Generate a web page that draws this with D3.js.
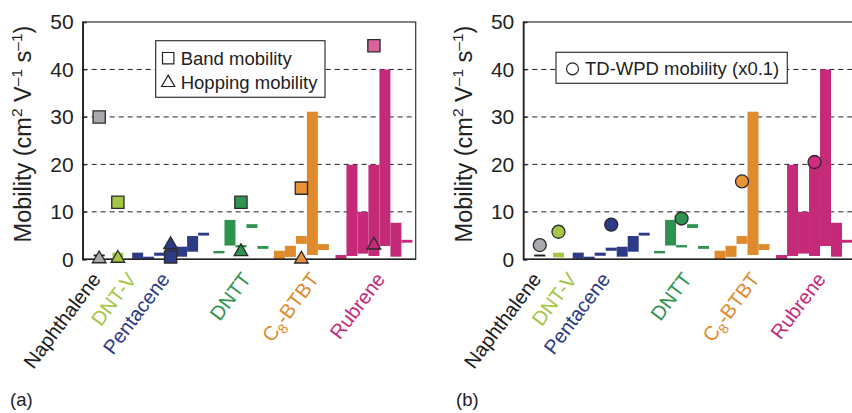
<!DOCTYPE html>
<meta charset="utf-8">
<style>
body { margin: 0; background: #fff; }
svg { font-family: "Liberation Sans", Arial, Helvetica, sans-serif; }
.grid line { stroke: #222; stroke-width: 1; stroke-dasharray: 5,4; }
</style>
<svg width="852" height="413"></svg>
<script src="https://d3js.org/d3.v7.min.js"></script>
<script>

    // compounds, left to right
    var compounds = ["Naphthalene", "DNT-V", "Pentacene", "DNTT", "C8-BTBT", "Rubrene"];
    var barColors = ["#1c1c1c", "#a4c545", "#2d3a86", "#2f9350", "#e08a2e", "#c52a79"];
    var markerColors = ["#a7a9ac", "#a4c545", "#2d3a86", "#2f9350", "#e8923a", "#d9649c"];
    var circleColors = ["#a7a9ac", "#a4c545", "#2d3a86", "#2f9350", "#e8923a", "#d42a86"];

    // first slot of each compound on the x axis (slot units)
    var groupStart = [1.0, 2.7, 4.5, 11.9, 17.4, 23.0];
    var labelAt = [1.73, 4.96, 8.0, 15.4, 21.6, 27.6];

    // reported mobility ranges [low, high], one bar per slot
    var naphRanges = [[0.6, 1.0]];
    var dntvRanges = [[0.4, 1.4]];
    var pentRanges = [[0.1, 1.4], [0.05, 0.55], [0.75, 1.4], [1.8, 2.45], [0.55, 2.65], [1.6, 4.9], [5.0, 5.6]];
    var dnttRanges = [[1.25, 1.75], [2.9, 8.3], [2.5, 3.0], [6.6, 7.4], [2.2, 2.8]];
    var c8Ranges = [[0.05, 1.8], [0.5, 2.85], [3.25, 4.9], [0.9, 31.1], [1.95, 3.2]];
    var rubRanges = [[0.0, 0.9], [0.7, 19.9], [1.2, 10.0], [0.7, 19.9], [2.8, 40.0], [0.55, 7.7], [3.5, 4.1]];
    var ranges = [naphRanges, dntvRanges, pentRanges, dnttRanges, c8Ranges, rubRanges];

    var bandMobility = [30, 12, 0.5, 12, 15, 45];
    var hoppingMobility = [0.1, 0.2, 3.1, 1.6, 0.05, 3.0];
    var tdwpdMobility = [3.0, 5.8, 7.3, 8.6, 16.4, 20.5];

    var yTicks = [0, 10, 20, 30, 40, 50];
    var gridTicks = [10, 20, 30, 40];

    var svg = d3.select("svg");
    var plotW = 333, plotH = 237.3, plotTop = 22;

    var bars = [];
    ranges.forEach(function (r, i) {
        r.forEach(function (d, j) {
            bars.push({ c: i, slot: groupStart[i] + j, lo: d[0], hi: d[1] });
        });
    });

    function center(i) {
        return groupStart[i] + ranges[i].length / 2;
    }

    function drawPanel(ox, mode, tag) {
        var g = svg.append("g").attr("transform", "translate(" + ox + "," + plotTop + ")");
        var x = d3.scaleLinear().domain([0, 30.3]).range([0, plotW]);
        var y = d3.scaleLinear().domain([0, 50]).range([plotH, 0]);

        g.append("g").attr("class", "grid")
            .selectAll("line").data(gridTicks).enter().append("line")
            .attr("x1", 0).attr("x2", plotW)
            .attr("y1", function (d) { return y(d); })
            .attr("y2", function (d) { return y(d); });

        g.append("g").selectAll("rect").data(bars).enter().append("rect")
            .attr("x", function (d) { return x(d.slot); })
            .attr("width", x(1) - x(0))
            .attr("y", function (d) { return y(d.hi); })
            .attr("height", function (d) { return y(d.lo) - y(d.hi); })
            .attr("fill", function (d) { return barColors[d.c]; });

        // frame
        g.append("rect").attr("width", plotW).attr("height", plotH)
            .attr("fill", "none").attr("stroke", "#333").attr("stroke-width", 1.2);

        var ax = g.append("g").call(d3.axisLeft(y).tickValues(yTicks).tickSize(-4).tickPadding(9));
        ax.select(".domain").attr("stroke", "#222").attr("stroke-width", 1.6);
        ax.selectAll(".tick line").attr("stroke", "#222");
        ax.selectAll("text").attr("font-size", 21).attr("font-family", null).attr("fill", "#222");
        g.append("line").attr("x1", 0).attr("x2", plotW).attr("y1", plotH).attr("y2", plotH)
            .attr("stroke", "#222").attr("stroke-width", 1.6);

        var title = g.append("text")
            .attr("transform", "translate(" + (31 - 82.7) + "," + (134 - plotTop) + ") rotate(-90)")
            .attr("text-anchor", "middle").attr("font-size", 23.5).attr("fill", "#222");
        title.append("tspan").text("Mobility (cm");
        title.append("tspan").attr("font-size", 15.5).attr("dy", -9).text("2");
        title.append("tspan").attr("dy", 9).text(" V");
        title.append("tspan").attr("font-size", 15.5).attr("dy", -9).text("\u20131");
        title.append("tspan").attr("dy", 9).text(" s");
        title.append("tspan").attr("font-size", 15.5).attr("dy", -9).text("\u20131");
        title.append("tspan").attr("dy", 9).text(")");

        // compound labels
        compounds.forEach(function (name, i) {
            var t = g.append("text")
                .attr("transform", "translate(" + x(labelAt[i]) + "," + (plotH + 20) + ") rotate(-53)")
                .attr("text-anchor", "end").attr("font-size", 20).attr("fill", barColors[i]);
            if (name === "C8-BTBT") {
                t.append("tspan").text("C");
                t.append("tspan").attr("font-size", 14).attr("dy", 5).text("8");
                t.append("tspan").attr("dy", -5).text("-BTBT");
            } else {
                t.text(name);
            }
        });

        g.append("text").attr("x", 10 - ox + 446 * (mode === "b" ? 1 : 0)).attr("y", 406 - plotTop)
            .attr("font-size", 18.5).attr("fill", "#222").text(tag);

        var sym = function (type, size) { return d3.symbol().type(type).size(size)(); };

        if (mode === "a") {
            // legend
            var lg = g.append("g").attr("transform", "translate(" + (155.7 - 82.7) + "," + (40.7 - plotTop) + ")");
            lg.append("rect").attr("width", 169.3).attr("height", 56.6)
                .attr("fill", "#fff").attr("stroke", "#333").attr("stroke-width", 1.2);
            lg.append("path").attr("d", sym(d3.symbolSquare, 130))
                .attr("transform", "translate(12.5,17.5)").attr("fill", "#fff").attr("stroke", "#222").attr("stroke-width", 1.2);
            lg.append("path").attr("d", sym(d3.symbolTriangle, 75))
                .attr("transform", "translate(12.5,42)").attr("fill", "#fff").attr("stroke", "#222").attr("stroke-width", 1.2);
            lg.append("text").attr("x", 25).attr("y", 24).attr("font-size", 18.5).attr("fill", "#222").text("Band mobility");
            lg.append("text").attr("x", 25).attr("y", 48).attr("font-size", 18.5).attr("fill", "#222").text("Hopping mobility");

            g.append("g").selectAll("path").data(compounds).enter().append("path")
                .attr("d", sym(d3.symbolSquare, 150))
                .attr("transform", function (d, i) { return "translate(" + x(center(i)) + "," + y(bandMobility[i]) + ")"; })
                .attr("fill", function (d, i) { return markerColors[i]; })
                .attr("stroke", "#2a2a2a").attr("stroke-width", 1.3);

            g.append("g").selectAll("path").data(compounds).enter().append("path")
                .attr("d", sym(d3.symbolTriangle, 80))
                .attr("transform", function (d, i) { return "translate(" + x(center(i)) + "," + y(hoppingMobility[i]) + ")"; })
                .attr("fill", function (d, i) { return i === 5 ? barColors[i] : markerColors[i]; })
                .attr("stroke", "#2a2a2a").attr("stroke-width", 1.3);
        } else {
            var lg2 = g.append("g").attr("transform", "translate(" + (556 - 523.3) + "," + (52.3 - plotTop) + ")");
            lg2.append("rect").attr("width", 231.3).attr("height", 31)
                .attr("fill", "#fff").attr("stroke", "#333").attr("stroke-width", 1.2);
            lg2.append("circle").attr("cx", 16.5).attr("cy", 16.5).attr("r", 6)
                .attr("fill", "#fff").attr("stroke", "#222").attr("stroke-width", 1.2);
            lg2.append("text").attr("x", 29).attr("y", 23).attr("font-size", 18.5).attr("fill", "#222").text("TD-WPD mobility (x0.1)");

            g.append("g").selectAll("circle").data(compounds).enter().append("circle")
                .attr("cx", function (d, i) { return x(center(i)); })
                .attr("cy", function (d, i) { return y(tdwpdMobility[i]); })
                .attr("r", 6.5)
                .attr("fill", function (d, i) { return circleColors[i]; })
                .attr("stroke", "#2a2a2a").attr("stroke-width", 1.3);
        }
    }

    drawPanel(82.7, "a", "(a)");
    drawPanel(523.3, "b", "(b)");

</script>
